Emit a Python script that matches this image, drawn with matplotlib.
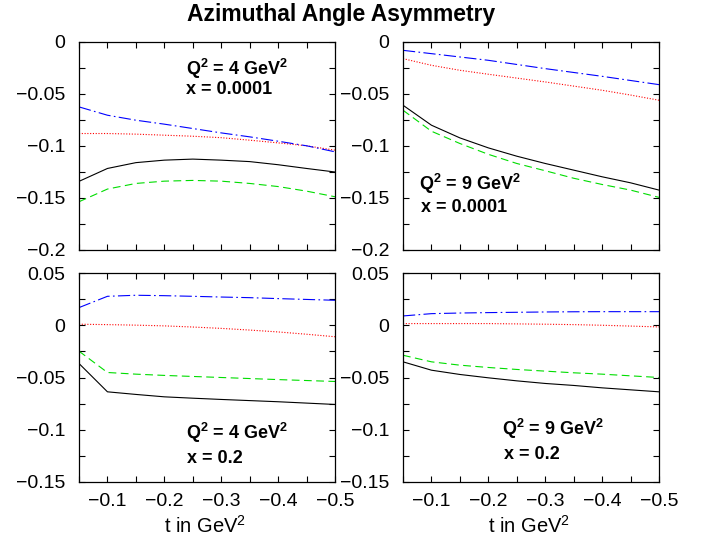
import matplotlib
matplotlib.use("Agg")
import matplotlib.pyplot as plt

plt.rcParams['font.family'] = ['Liberation Sans', 'DejaVu Sans']
plt.rcParams['mathtext.fontset'] = 'custom'
plt.rcParams['mathtext.rm'] = 'Liberation Sans'
plt.rcParams['mathtext.it'] = 'Liberation Sans'
plt.rcParams['mathtext.bf'] = 'Liberation Sans:bold'

t = [-0.05, -0.10, -0.15, -0.20, -0.25, -0.30, -0.35, -0.40, -0.45, -0.50]

# Panel A: Q^2 = 4, x = 0.0001
a_black = [-0.134, -0.1216, -0.116, -0.1136, -0.1126, -0.1136, -0.115, -0.118, -0.1216, -0.125]
a_green = [-0.1536, -0.1414, -0.136, -0.1338, -0.1331, -0.1338, -0.136, -0.139, -0.1434, -0.1488]
a_red = [-0.088, -0.088, -0.0886, -0.0896, -0.0906, -0.092, -0.0944, -0.097, -0.0998, -0.104]
a_blue = [-0.0624, -0.0704, -0.0752, -0.079, -0.0832, -0.0874, -0.0912, -0.0954, -0.0998, -0.1056]

# Panel B: Q^2 = 9, x = 0.0001
b_black = [-0.0608, -0.080, -0.0922, -0.1018, -0.1098, -0.1168, -0.1232, -0.1296, -0.1354, -0.1424]
b_green = [-0.0656, -0.0858, -0.0976, -0.108, -0.1168, -0.1238, -0.131, -0.137, -0.1424, -0.1494]
b_red = [-0.016, -0.0224, -0.0272, -0.031, -0.0347, -0.0384, -0.0424, -0.0464, -0.051, -0.056]
b_blue = [-0.008, -0.0112, -0.0144, -0.0176, -0.0216, -0.0256, -0.0293, -0.033, -0.037, -0.041]

# Panel C: Q^2 = 4, x = 0.2
c_black = [-0.0366, -0.0637, -0.0662, -0.0685, -0.0698, -0.071, -0.0721, -0.0732, -0.0745, -0.0758]
c_green = [-0.0248, -0.0452, -0.0468, -0.048, -0.049, -0.050, -0.051, -0.052, -0.0529, -0.0538]
c_red = [0.001, 0.0006, 0.0001, -0.0006, -0.0017, -0.003, -0.0046, -0.0064, -0.0086, -0.011]
c_blue = [0.0169, 0.0277, 0.0287, 0.0283, 0.0277, 0.027, 0.0264, 0.0255, 0.0247, 0.0239]

# Panel D: Q^2 = 9, x = 0.2
d_black = [-0.035, -0.043, -0.0471, -0.0503, -0.0532, -0.0557, -0.0576, -0.0599, -0.0618, -0.0637]
d_green = [-0.0287, -0.035, -0.0382, -0.0404, -0.0423, -0.0439, -0.0455, -0.0468, -0.0484, -0.05]
d_red = [0.0016, 0.0016, 0.0016, 0.0016, 0.0013, 0.001, 0.0006, 0.0, -0.0008, -0.0016]
d_blue = [0.0089, 0.0111, 0.0117, 0.0121, 0.0124, 0.0127, 0.0129, 0.013, 0.013, 0.013]

x_ticks = [-0.05, -0.10, -0.15, -0.20, -0.25, -0.30, -0.35, -0.40, -0.45, -0.50]
x_ticklabels = ['', '\u22120.1', '', '\u22120.2', '', '\u22120.3', '', '\u22120.4', '', '\u22120.5']
top_yticks = [0, -0.025, -0.05, -0.075, -0.1, -0.125, -0.15, -0.175, -0.2]
top_ylabels = ['0', '', '\u22120.05', '', '\u22120.1', '', '\u22120.15', '', '\u22120.2']
bot_yticks = [0.05, 0.025, 0, -0.025, -0.05, -0.075, -0.1, -0.125, -0.15]
bot_ylabels = ['0.05', '', '0', '', '\u22120.05', '', '\u22120.1', '', '\u22120.15']

title = 'Azimuthal Angle Asymmetry'
xlabel = r't in GeV$^{2}$'
q4 = r'Q$^{\mathbf{2}}$ = 4 GeV$^{\mathbf{2}}$'
q9 = r'Q$^{\mathbf{2}}$ = 9 GeV$^{\mathbf{2}}$'

panels = [
    dict(pos=[79/707, 1-250/539, 256/707, 208/539], data=(a_black, a_green, a_red, a_blue),
         ylim=(-0.2, 0), yt=top_yticks, yl=top_ylabels, xl=False,
         txt=[(q4, 0.418, 0.84), ('x = 0.0001', 0.418, 0.75)]),
    dict(pos=[403/707, 1-250/539, 256/707, 208/539], data=(b_black, b_green, b_red, b_blue),
         ylim=(-0.2, 0), yt=top_yticks, yl=top_ylabels, xl=False,
         txt=[(q9, 0.0625, 0.29), ('x = 0.0001', 0.07, 0.183)]),
    dict(pos=[79/707, 1-482/539, 256/707, 209/539], data=(c_black, c_green, c_red, c_blue),
         ylim=(-0.15, 0.05), yt=bot_yticks, yl=bot_ylabels, xl=True,
         txt=[(q4, 0.418, 0.205), ('x = 0.2', 0.42, 0.091)]),
    dict(pos=[403/707, 1-482/539, 256/707, 209/539], data=(d_black, d_green, d_red, d_blue),
         ylim=(-0.15, 0.05), yt=bot_yticks, yl=bot_ylabels, xl=True,
         txt=[(q9, 0.387, 0.224), ('x = 0.2', 0.395, 0.11)]),
]

fig = plt.figure(figsize=(7.07, 5.39), dpi=100)

for p in panels:
    ax = fig.add_axes(p['pos'])
    blk, grn, red, blu = p['data']
    ax.plot(t, blk, color='black', lw=0.8, ls='-')
    ax.plot(t, grn, color='#00dd00', lw=0.8, ls=(0, (7, 4)))
    ax.plot(t, red, color='#ff0000', lw=0.8, ls=(0, (1, 1.5)))
    ax.plot(t, blu, color='#0000ff', lw=0.8, ls=(0, (11, 3, 1.5, 3)))
    ax.set_xlim(-0.05, -0.5)
    ax.set_ylim(*p['ylim'])
    ax.set_xticks(x_ticks)
    if p['xl']:
        ax.set_xticklabels(x_ticklabels)
        ax.text(0.492, -0.244, xlabel, transform=ax.transAxes, fontsize=14.5,
                ha='center', va='baseline')
    else:
        ax.set_xticklabels([''] * len(x_ticks))
    ax.set_yticks(p['yt'])
    ax.set_yticklabels(p['yl'])
    ax.tick_params(axis='both', direction='in', length=4, width=0.8,
                   top=True, right=True, labelsize=14)
    ax.tick_params(axis='y', pad=10)
    ax.tick_params(axis='x', pad=8)
    for s in ax.spines.values():
        s.set_linewidth(0.9)
    for txt, xx, yy in p['txt']:
        ax.text(xx, yy, txt, transform=ax.transAxes, fontsize=13,
                fontweight='bold', va='baseline', ha='left')

fig.text(341/707, 1-21/539, title, fontsize=16.5, fontweight='bold',
         ha='center', va='baseline')

fig.savefig('out.png', dpi=100)
